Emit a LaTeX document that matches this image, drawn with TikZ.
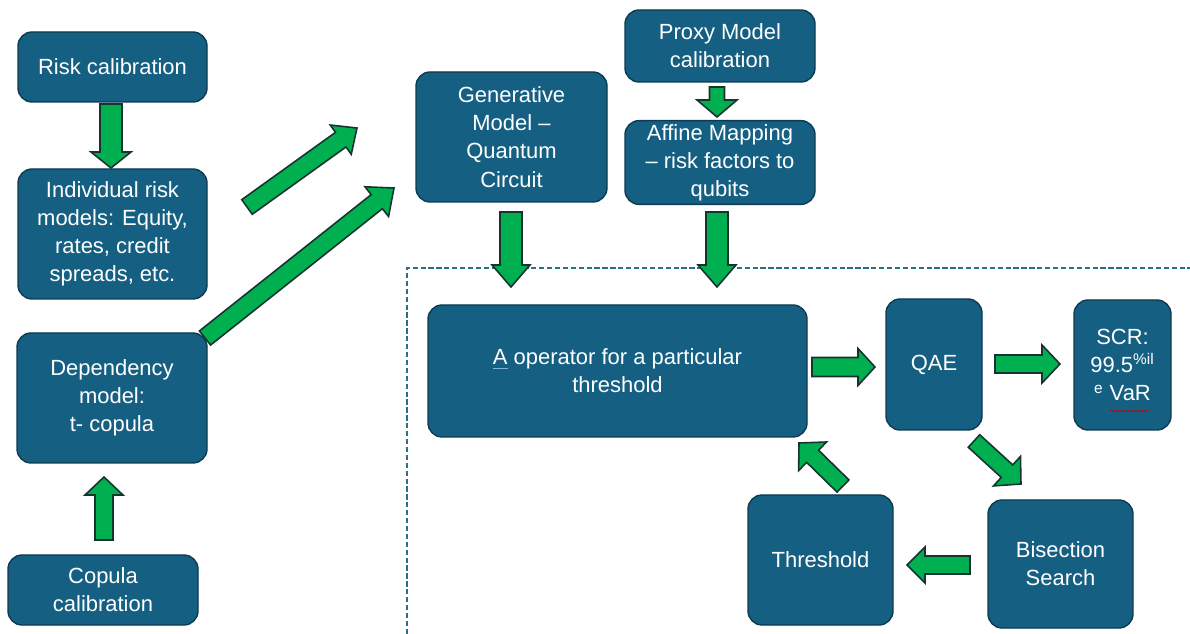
\documentclass[tikz,border=0pt]{standalone}
\usepackage{fontspec}
\setmainfont{Liberation Sans}
\usetikzlibrary{calc,decorations.pathmorphing}

\definecolor{boxfill}{HTML}{156082}
\definecolor{boxline}{HTML}{0C3B52}
\definecolor{arrowfill}{HTML}{00B050}
\definecolor{arrowline}{HTML}{173330}
\definecolor{ulblue}{HTML}{7FB2E0}
\definecolor{frameblue}{HTML}{2A6F8C}

% underlined "A" (operator symbol)
\newcommand\ulA{\setbox0\hbox{A}\rlap{\color{ulblue}\rule[-2.6pt]{\wd0}{0.8pt}}A}

% block arrow from #1 (tail) to #2 (tip); #3 half shaft, #4 half head, #5 head length (px)
\newcommand\blockarrow[5]{%
  \pgfmathsetlengthmacro\baS{#3*0.02cm}%
  \pgfmathsetlengthmacro\baH{#4*0.02cm}%
  \pgfmathsetlengthmacro\baL{#5*0.02cm}%
  \coordinate (ba-base) at ($(#2)!\baL!(#1)$);
  \draw[blockarrow]
    ($(#1)!\baS!90:(#2)$) -- ($(ba-base)!\baS!-90:(#1)$) --
    ($(ba-base)!\baH!-90:(#1)$) -- (#2) --
    ($(ba-base)!\baH!90:(#1)$) -- ($(ba-base)!\baS!90:(#1)$) --
    ($(#1)!\baS!-90:(#2)$) -- cycle;
}

\begin{document}
\begin{tikzpicture}[x=0.02cm,y=-0.02cm,
  box/.style={draw=boxline, line width=0.8pt, fill=boxfill, rounded corners=8pt,
    text=white, align=center, inner sep=2pt,
    font=\fontsize{12.5}{16}\selectfont},
  blockarrow/.style={draw=arrowline, fill=arrowfill, line width=0.9pt, line join=miter},
  frame/.style={draw=frameblue, line width=0.8pt, dash pattern=on 3pt off 1.5pt},
  spellmark/.style={draw=red!80!black, line width=0.4pt, decorate,
    decoration={snake, amplitude=0.35pt, segment length=2pt}}]

\useasboundingbox (0,0) rectangle (1190,634);

% ---- left column ----
\node[box, minimum width=189*0.02cm, minimum height=70*0.02cm] (risk) at (112.5,67) {Risk calibration};
\node[box, minimum width=189*0.02cm, minimum height=130*0.02cm] (indiv) at (112.5,234)
  {Individual risk\\models: Equity,\\rates, credit\\spreads, etc.};
\node[box, minimum width=190*0.02cm, minimum height=130*0.02cm] (dep) at (112,398)
  {Dependency\\model:\\t- copula};
\node[box, minimum width=190*0.02cm, minimum height=70*0.02cm] (cop) at (103,590)
  {Copula\\calibration};

% ---- top middle ----
\node[box, minimum width=191*0.02cm, minimum height=130*0.02cm] (gen) at (511.5,137)
  {Generative\\Model –\\Quantum\\Circuit};
\node[box, minimum width=190*0.02cm, minimum height=72*0.02cm] (proxy) at (720,46)
  {Proxy Model\\calibration};
\node[box, minimum width=190*0.02cm, minimum height=81*0.02cm] (affine) at (720,162.5)
  {Affine Mapping\\– risk factors to\\qubits};

% ---- quantum estimation loop ----
\node[box, minimum width=379*0.02cm, minimum height=132*0.02cm] (aop) at (617.5,371)
  {\ulA{} operator for a particular\\threshold};
\node[box, minimum width=96*0.02cm, minimum height=131*0.02cm] (qae) at (934,364.5) {QAE};
\node[box, minimum width=97*0.02cm, minimum height=130*0.02cm] (scr) at (1122.5,365)
  {SCR:\\99.5\textsuperscript{\%il}\\\textsuperscript{e} VaR};
\node[box, minimum width=145*0.02cm, minimum height=130*0.02cm] (thr) at (820.5,560) {Threshold};
\node[box, minimum width=145*0.02cm, minimum height=128*0.02cm] (bis) at (1060.5,564)
  {Bisection\\Search};

% red wavy mark under "VaR"
\draw[spellmark] (1110,411) -- (1149,411);

% dashed boundary of the quantum part
\draw[frame] (407,634) -- (407,268) -- (1190,268);

% ---- arrow anchors ----
\coordinate (risk-out) at (111,104);   \coordinate (indiv-in) at (111,168);
\coordinate (cop-out)  at (104,540);   \coordinate (dep-in)   at (104,477);
\coordinate (indiv-out) at (247,207);  \coordinate (gen-in1)  at (357,128);
\coordinate (dep-out)  at (205,338);   \coordinate (gen-in2)  at (394,188);
\coordinate (gen-out)  at (511,212);   \coordinate (aop-in1)  at (511,287);
\coordinate (aff-out)  at (717,212);   \coordinate (aop-in2)  at (717,287);
\coordinate (proxy-out) at (717,87);   \coordinate (aff-in)   at (717,117);
\coordinate (aop-out)  at (812,367);   \coordinate (qae-in)   at (875,367);
\coordinate (qae-out)  at (995,364);   \coordinate (scr-in)   at (1060,364);
\coordinate (qae-out2) at (974,441);   \coordinate (bis-in)   at (1021,484);
\coordinate (thr-out)  at (843,486);   \coordinate (aop-in3)  at (799,443);
\coordinate (bis-out)  at (970,565);   \coordinate (thr-in)   at (907,565);

% ---- block arrows ----
\blockarrow{risk-out}{indiv-in}{11}{20}{16}
\blockarrow{cop-out}{dep-in}{9}{19}{18}
\blockarrow{indiv-out}{gen-in1}{9}{18}{20}
\blockarrow{dep-out}{gen-in2}{9}{19}{22}
\blockarrow{gen-out}{aop-in1}{11}{19}{22}
\blockarrow{aff-out}{aop-in2}{11}{19}{22}
\blockarrow{proxy-out}{aff-in}{7.5}{20}{17}
\blockarrow{aop-out}{qae-in}{9.5}{18.5}{17}
\blockarrow{qae-out}{scr-in}{9}{19}{18}
\blockarrow{qae-out2}{bis-in}{8.5}{20}{19}
\blockarrow{thr-out}{aop-in3}{8.5}{20}{19}
\blockarrow{bis-out}{thr-in}{9}{18}{18}

\end{tikzpicture}
\end{document}
